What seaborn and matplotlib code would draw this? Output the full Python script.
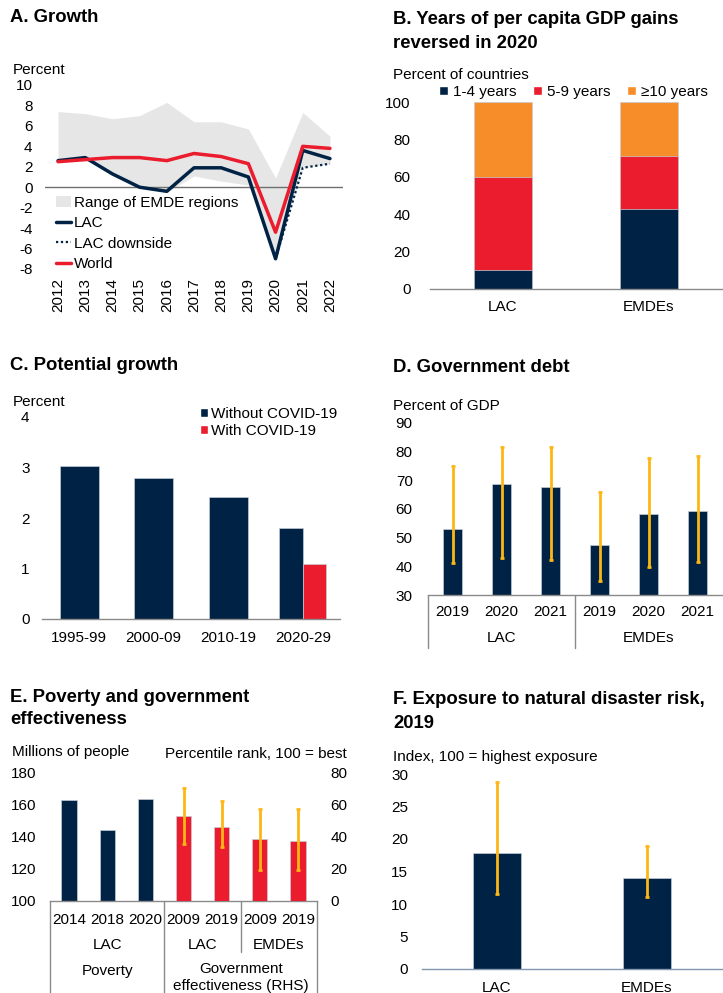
import numpy as np
import pandas as pd
import matplotlib
matplotlib.use("Agg")
import matplotlib.pyplot as plt
import matplotlib.transforms as mtransforms
from matplotlib.patches import Patch
from matplotlib.lines import Line2D
import seaborn as sns

# ---------------- data ----------------
# A. Growth
years = [2012, 2013, 2014, 2015, 2016, 2017, 2018, 2019, 2020, 2021, 2022]
lac_growth = [2.6, 2.9, 1.3, 0.0, -0.4, 1.9, 1.9, 1.0, -7.0, 3.6, 2.8]
world_growth = [2.5, 2.7, 2.9, 2.9, 2.6, 3.3, 3.0, 2.3, -4.4, 4.0, 3.8]
downside_years = [2020, 2021, 2022]
lac_downside = [-7.0, 1.9, 2.3]
range_high = [7.4, 7.2, 6.7, 7.0, 8.3, 6.4, 6.4, 5.7, 0.9, 7.3, 5.0]
range_low = [2.5, 2.7, 1.3, 0.0, -0.5, 1.1, 0.6, 0.2, -6.9, 1.9, 2.3]

# B. Years of per capita GDP gains reversed
groups_b = ["LAC", "EMDEs"]
yrs_1_4 = [10, 43]
yrs_5_9 = [50, 28]
yrs_10_plus = [40, 29]

# C. Potential growth
periods = ["1995-99", "2000-09", "2010-19", "2020-29"]
without_covid = [3.02, 2.80, 2.41, 1.81]
with_covid_2020s = 1.09

# D. Government debt
debt_groups = ["LAC", "LAC", "LAC", "EMDEs", "EMDEs", "EMDEs"]
debt_years = ["2019", "2020", "2021", "2019", "2020", "2021"]
debt_median = [53.0, 68.7, 67.8, 47.4, 58.2, 59.4]
debt_low = [41.3, 42.8, 42.1, 34.8, 39.8, 41.6]
debt_high = [75.1, 81.6, 81.5, 66.0, 77.8, 78.6]

# E. Poverty and government effectiveness
poverty_years = ["2014", "2018", "2020"]
poverty = [162.5, 143.8, 163.0]
gov_groups = ["LAC", "LAC", "EMDEs", "EMDEs"]
gov_years = ["2009", "2019", "2009", "2019"]
gov_eff = [52.8, 46.1, 38.2, 37.4]
gov_low = [35.5, 33.7, 19.5, 19.1]
gov_high = [70.0, 62.1, 57.1, 56.9]

# F. Exposure to natural disaster risk
exposure_groups = ["LAC", "EMDEs"]
exposure = [17.9, 14.0]
exposure_low = [11.5, 11.1]
exposure_high = [28.8, 18.9]

# ---------------- style ----------------
NAVY = "#002345"
RED = "#EB1C2D"
ORANGE = "#F78D28"
YELLOW = "#FDB714"
SHADE = "#E6E6E6"
AXIS_GRAY = "#8a8a8a"
EDGE = "#c5ccd6"

sns.set_style("white")
plt.rcParams["font.family"] = ["Liberation Sans", "DejaVu Sans"]
plt.rcParams["axes.unicode_minus"] = False
plt.rcParams["font.size"] = 11
plt.rcParams["text.color"] = "black"
plt.rcParams["axes.labelcolor"] = "black"
plt.rcParams["xtick.color"] = "black"
plt.rcParams["ytick.color"] = "black"

W, H = 723, 993
fig = plt.figure(figsize=(W / 100, H / 100), dpi=100)

BAR_KW = dict(saturation=1, edgecolor=EDGE, linewidth=0.5)


def add_axes(l, t, r, b):
    return fig.add_axes([l / W, 1 - b / H, (r - l) / W, (b - t) / H])


def ftext(x, y, s, **kw):
    kw.setdefault("va", "center")
    kw.setdefault("fontsize", 11)
    kw.setdefault("color", "black")
    fig.text(x / W, 1 - y / H, s, **kw)


def title(x, y, s):
    ftext(x, y, s, fontsize=13.3, fontweight="bold")


def clean(ax, bottom_color=AXIS_GRAY, ypad=10, xpad=8):
    for side in ["top", "right", "left"]:
        ax.spines[side].set_visible(False)
    ax.spines["bottom"].set_color(bottom_color)
    ax.spines["bottom"].set_linewidth(1.0)
    ax.tick_params(axis="both", length=0, labelsize=11, colors="black")
    ax.tick_params(axis="y", pad=ypad)
    ax.tick_params(axis="x", pad=xpad)
    ax.set_xlabel("")
    ax.set_ylabel("")
    ax.grid(False)


def draw_errors(ax, xs, mid, low, high):
    mid = np.asarray(mid)
    yerr = [mid - np.asarray(low), np.asarray(high) - mid]
    ax.errorbar(xs, mid, yerr=yerr, fmt="none", ecolor=YELLOW,
                elinewidth=2, capsize=1.6, capthick=2, zorder=5)


# ---------------- A. Growth ----------------
axA = add_axes(45, 85, 343, 269)
axA.fill_between(years, range_low, range_high, color=SHADE, lw=0,
                 label="Range of EMDE regions")
axA.axhline(0, color="#707070", lw=1)
sns.lineplot(x=years, y=lac_growth, ax=axA, color=NAVY, lw=2.5, label="LAC")
sns.lineplot(x=downside_years, y=lac_downside, ax=axA, color=NAVY, lw=1.6,
             ls=(0, (1, 1.2)), label="LAC downside")
sns.lineplot(x=years, y=world_growth, ax=axA, color=RED, lw=2.5, label="World")
axA.set_xlim(2011.52, 2022.48)
axA.set_ylim(-8, 10)
axA.set_yticks(range(-8, 11, 2))
axA.set_xticks(years)
axA.set_xticklabels([str(y) for y in years], rotation=90)
clean(axA, ypad=9, xpad=6.5)
axA.spines["bottom"].set_visible(False)
handles, labels = axA.get_legend_handles_labels()
axA.legend(handles, labels, loc="upper left",
           bbox_to_anchor=(56 / W, 1 - 196 / H), bbox_transform=fig.transFigure,
           frameon=False, fontsize=11, borderpad=0, borderaxespad=0,
           handlelength=1.0, handletextpad=0.15, labelspacing=0.42,
           labelcolor="black")
title(10, 18, "A. Growth")
ftext(13, 70, "Percent")

# ---------------- B. Years of gains reversed ----------------
axB = add_axes(430, 102, 722, 289)
cum_1 = np.array(yrs_1_4)
cum_2 = cum_1 + np.array(yrs_5_9)
cum_3 = cum_2 + np.array(yrs_10_plus)
for vals, col in [(cum_3, ORANGE), (cum_2, RED), (cum_1, NAVY)]:
    sns.barplot(x=groups_b, y=vals, color=col, width=0.4, ax=axB, **BAR_KW)
axB.set_xlim(-0.5, 1.5)
axB.set_ylim(0, 100)
axB.set_yticks(range(0, 101, 20))
clean(axB, ypad=14, xpad=8)
for p in axB.patches:
    p.set_clip_on(False)
legB = [Patch(facecolor=NAVY), Patch(facecolor=RED), Patch(facecolor=ORANGE)]
axB.legend(legB, ["1-4 years", "5-9 years", "\u226510 years"], ncol=3,
           loc="center left", bbox_to_anchor=(439 / W, 1 - 92 / H),
           bbox_transform=fig.transFigure, frameon=False, fontsize=11,
           borderpad=0, borderaxespad=0, handlelength=0.6, handleheight=0.6,
           handletextpad=0.3, columnspacing=1.1, labelcolor="black")
title(393, 20, "B. Years of per capita GDP gains")
title(393, 43, "reversed in 2020")
ftext(393, 75, "Percent of countries")

# ---------------- C. Potential growth ----------------
axC = add_axes(42, 417, 340, 619)
sns.barplot(x=periods[:3], y=without_covid[:3], order=periods, color=NAVY,
            width=0.52, ax=axC, **BAR_KW)
pair = pd.DataFrame({
    "period": [periods[3], periods[3]],
    "value": [without_covid[3], with_covid_2020s],
    "scenario": ["Without COVID-19", "With COVID-19"],
})
sns.barplot(data=pair, x="period", y="value", hue="scenario", order=periods,
            hue_order=["Without COVID-19", "With COVID-19"],
            palette=[NAVY, RED], width=0.63, dodge=True, legend=False, ax=axC,
            **BAR_KW)
axC.set_xlim(-0.5, 3.5)
axC.set_ylim(0, 4)
axC.set_yticks(range(0, 5))
clean(axC, ypad=9, xpad=8.5)
legC = [Patch(facecolor=NAVY), Patch(facecolor=RED)]
axC.legend(legC, ["Without COVID-19", "With COVID-19"], loc="upper left",
           bbox_to_anchor=(200 / W, 1 - 407 / H), bbox_transform=fig.transFigure,
           frameon=False, fontsize=11, borderpad=0, borderaxespad=0,
           handlelength=0.5, handleheight=0.5, handletextpad=0.25,
           labelspacing=0.2, labelcolor="black")
title(10, 365, "C. Potential growth")
ftext(13, 402, "Percent")

# ---------------- D. Government debt ----------------
axD = add_axes(428, 423, 722, 595)
cats_d = [f"{g} {y}" for g, y in zip(debt_groups, debt_years)]
sns.barplot(x=cats_d, y=debt_median, order=cats_d, color=NAVY, width=0.4,
            ax=axD, **BAR_KW)
draw_errors(axD, range(len(cats_d)), debt_median, debt_low, debt_high)
axD.set_xlim(-0.5, len(cats_d) - 0.5)
axD.set_ylim(30, 90)
axD.set_yticks(range(30, 91, 10))
axD.set_xticks(range(len(cats_d)))
axD.set_xticklabels(debt_years)
clean(axD, ypad=11, xpad=7)
trD = mtransforms.blended_transform_factory(axD.transData, axD.transAxes)
depth_d = (648 - 595) / (595 - 423)
for xb in [-0.5, 2.5]:
    axD.add_line(Line2D([xb, xb], [0, -depth_d], transform=trD, color=AXIS_GRAY,
                        lw=1, clip_on=False))
row_d = -(638 - 595) / (595 - 423)
for grp, xs in [("LAC", [0, 1, 2]), ("EMDEs", [3, 4, 5])]:
    axD.text(np.mean(xs), row_d, grp, transform=trD, ha="center", va="center",
             fontsize=11, color="black")
title(393, 368, "D. Government debt")
ftext(393, 406, "Percent of GDP")

# ---------------- E. Poverty and government effectiveness ----------------
axE = add_axes(50, 772, 317, 901)
cats_pov = [f"Poverty {y}" for y in poverty_years]
cats_gov = [f"{g} {y}" for g, y in zip(gov_groups, gov_years)]
cats_e = cats_pov + cats_gov
sns.barplot(x=cats_pov, y=poverty, order=cats_e, color=NAVY, width=0.4,
            ax=axE, **BAR_KW)
axE.set_ylim(100, 180)
axE.set_yticks(range(100, 181, 20))
axE2 = axE.twinx()
sns.barplot(x=cats_gov, y=gov_eff, order=cats_e, color=RED, width=0.4,
            ax=axE2, **BAR_KW)
draw_errors(axE2, range(len(cats_pov), len(cats_e)), gov_eff, gov_low, gov_high)
axE2.set_ylim(0, 80)
axE2.set_yticks(range(0, 81, 20))
for a in (axE, axE2):
    a.set_xlim(-0.5, len(cats_e) - 0.5)
clean(axE, ypad=10, xpad=8.5)
clean(axE2, ypad=9.5, xpad=8.5)
axE2.spines["bottom"].set_visible(False)
axE.set_xticks(range(len(cats_e)))
axE.set_xticklabels(poverty_years + gov_years)
axE2.tick_params(axis="y", labelright=True, labelleft=False)
trE = mtransforms.blended_transform_factory(axE.transData, axE.transAxes)
span_e = 901 - 772
for xb, ybot in [(-0.5, 993), (2.5, 993), (4.5, 952), (6.5, 993)]:
    axE.add_line(Line2D([xb, xb], [0, -(ybot - 901) / span_e], transform=trE,
                        color=AXIS_GRAY, lw=1, clip_on=False))
row2 = -(945 - 901) / span_e
row3 = -(971 - 901) / span_e
txt_kw = dict(transform=trE, ha="center", va="center", fontsize=11,
              color="black")
axE.text(1, row2, "LAC", **txt_kw)
axE.text(3.5, row2, "LAC", **txt_kw)
axE.text(5.5, row2, "EMDEs", **txt_kw)
axE.text(1, row3, "Poverty", **txt_kw)
axE.text(4.5, -(962 - 901) / span_e, "Government\neffectiveness (RHS)",
         transform=trE, ha="center", va="top", fontsize=11, linespacing=1.3,
         color="black")
title(10, 697, "E. Poverty and government")
title(10, 720, "effectiveness")
ftext(12, 752, "Millions of people")
ftext(347, 754, "Percentile rank, 100 = best", ha="right")

# ---------------- F. Natural disaster risk ----------------
axF = add_axes(422, 774, 722, 969)
sns.barplot(x=exposure_groups, y=exposure, color=NAVY, width=0.32, ax=axF,
            **BAR_KW)
draw_errors(axF, range(len(exposure_groups)), exposure, exposure_low,
            exposure_high)
axF.set_xlim(-0.5, 1.5)
axF.set_ylim(0, 30)
axF.set_yticks(range(0, 31, 5))
clean(axF, bottom_color="#8497b0", ypad=10, xpad=8.5)
title(393, 700, "F. Exposure to natural disaster risk,")
title(393, 723, "2019")
ftext(393, 757, "Index, 100 = highest exposure")

fig.savefig("out.png", dpi=100, facecolor="white")
